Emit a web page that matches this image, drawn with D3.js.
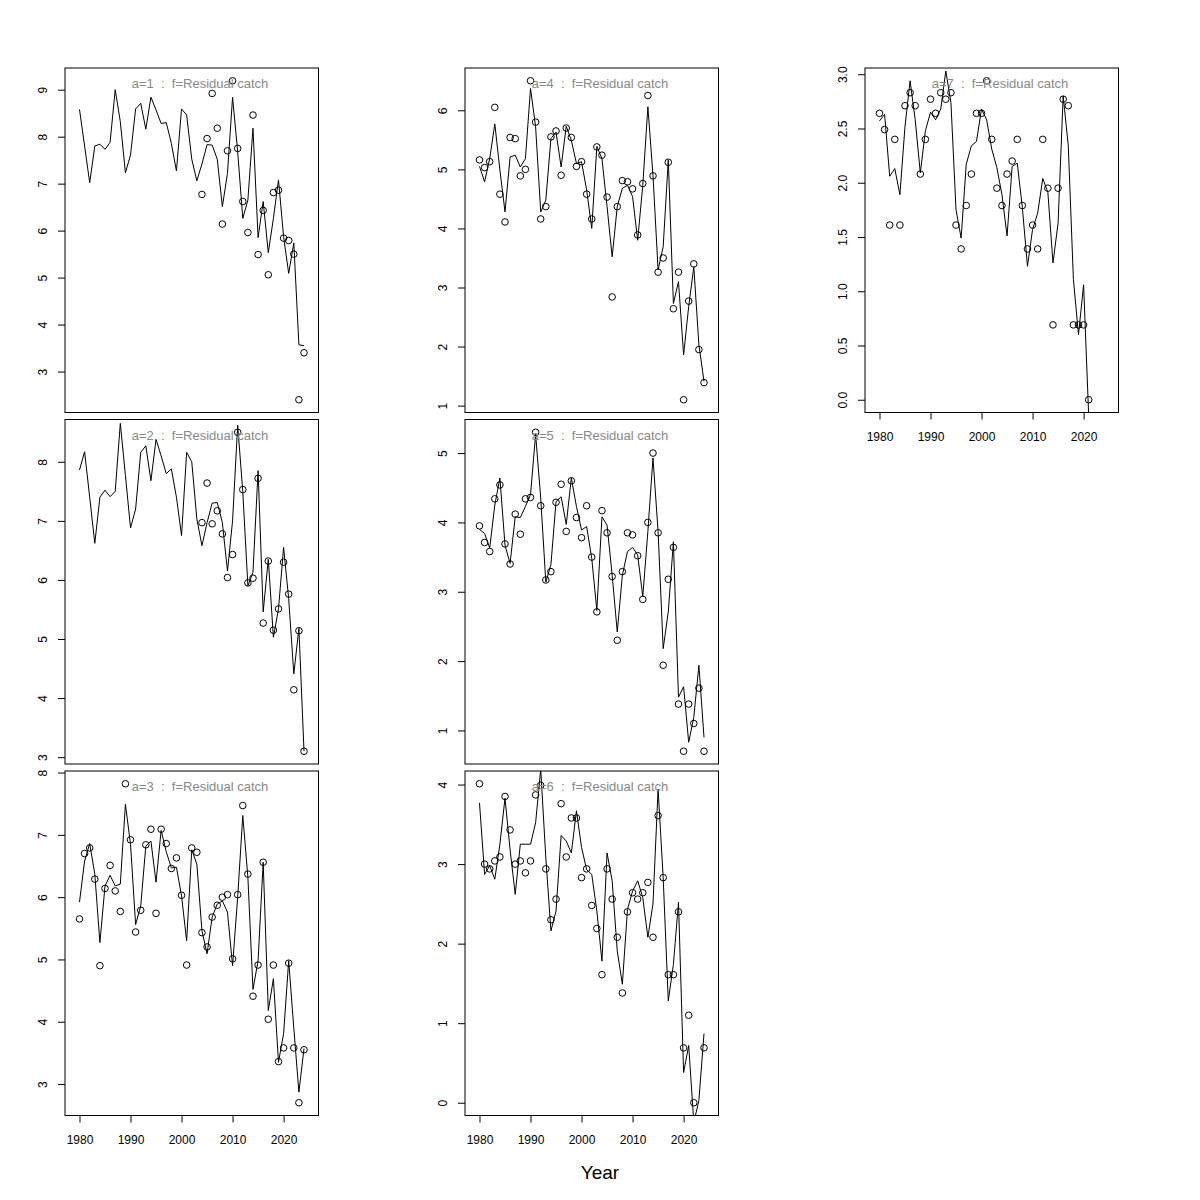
<!DOCTYPE html>
<html><head><meta charset="utf-8">
<script src="https://cdn.jsdelivr.net/npm/d3@7"></script>
<style>
body{margin:0;background:#fff}
svg text{font-family:"Liberation Sans",Arial,Helvetica,sans-serif}
</style>
</head><body>
<svg id="chart" width="1200" height="1200"></svg>
<script>
// ---------------- data ----------------
const years = [1980,1981,1982,1983,1984,1985,1986,1987,1988,1989,
  1990,1991,1992,1993,1994,1995,1996,1997,1998,1999,
  2000,2001,2002,2003,2004,2005,2006,2007,2008,2009,
  2010,2011,2012,2013,2014,2015,2016,2017,2018,2019,
  2020,2021,2022,2023,2024];
const xTickValues = [1980,1990,2000,2010,2020];
const ages = [1,2,3,4,5,6,7];
const fleetLabel = "f=Residual catch";
const xTitle = "Year";

const fit1 = [8.58,7.80,7.02,7.80,7.84,7.73,7.88,9.00,8.32,7.23,
  7.61,8.59,8.71,8.16,8.84,8.57,8.28,8.30,7.86,7.27,
  8.59,8.46,7.52,7.06,7.42,7.83,7.82,7.52,6.51,7.22,
  8.84,7.68,6.26,6.65,8.18,5.85,6.62,5.53,6.26,7.08,
  5.87,5.09,5.74,3.57,3.55];
const obs1 = [null,null,null,null,null,null,null,null,null,null,
  null,null,null,null,null,null,null,null,null,null,
  null,null,null,null,6.77,7.96,8.92,8.18,6.14,7.70,
  9.19,7.75,6.62,5.96,8.46,5.49,6.43,5.06,6.81,6.86,
  5.84,5.79,5.50,2.40,3.40];

const fit2 = [7.86,8.17,7.40,6.62,7.40,7.52,7.41,7.50,8.65,7.77,
  6.88,7.20,8.16,8.27,7.68,8.38,8.10,7.80,7.88,7.40,
  6.75,8.16,8.00,7.03,6.58,6.97,7.30,7.31,6.97,6.15,
  7.00,8.62,7.50,5.90,6.13,7.85,5.46,6.35,5.03,5.51,
  6.55,5.68,4.41,5.18,3.10];
const obs2 = [null,null,null,null,null,null,null,null,null,null,
  null,null,null,null,null,null,null,null,null,null,
  null,null,null,null,6.97,7.64,6.95,7.17,6.78,6.04,
  6.43,8.50,7.53,5.95,6.03,7.72,5.27,6.32,5.15,5.51,
  6.30,5.76,4.14,5.14,3.10];

const fit3 = [5.92,6.58,6.86,6.37,5.27,6.18,6.35,6.18,6.21,7.49,
  6.85,5.56,5.86,6.82,6.90,6.24,7.07,6.73,6.47,6.48,
  6.02,5.30,6.76,6.53,5.46,5.09,5.68,5.89,5.94,5.76,
  4.90,6.00,7.31,6.32,4.52,4.98,6.56,4.18,4.69,3.35,
  3.81,4.98,3.90,2.87,3.57];
const obs3 = [5.65,6.70,6.79,6.29,4.90,6.14,6.51,6.10,5.77,7.82,
  6.92,5.44,5.79,6.84,7.09,5.74,7.09,6.86,6.46,6.63,
  6.03,4.91,6.79,6.72,5.43,5.20,5.68,5.87,6.00,6.04,
  5.01,6.04,7.47,6.37,4.41,4.91,6.56,4.04,4.91,3.36,
  3.58,4.94,3.58,2.70,3.55];

const fit4 = [5.05,4.79,5.18,5.77,4.99,4.28,5.21,5.24,5.04,5.18,
  6.37,5.72,4.28,4.48,5.52,5.63,5.04,5.73,5.49,5.10,
  5.13,4.65,4.00,5.39,5.18,4.37,3.52,4.37,4.68,4.73,
  4.54,3.80,4.73,6.06,4.90,3.30,3.69,5.16,2.73,3.10,
  1.86,2.68,3.35,2.03,1.41];
const obs4 = [5.16,5.03,5.13,6.05,4.58,4.11,5.54,5.52,4.89,5.00,
  6.50,5.80,4.16,4.37,5.55,5.65,4.90,5.70,5.54,5.05,
  5.13,4.58,4.16,5.38,5.24,4.53,2.84,4.37,4.81,4.79,
  4.67,3.89,4.76,6.25,4.89,3.26,3.50,5.12,2.64,3.26,
  1.10,2.77,3.40,1.95,1.39];

const fit5 = [3.90,3.84,3.63,4.25,4.64,3.67,3.41,4.08,4.07,4.23,
  4.40,5.27,4.35,3.14,3.39,4.30,4.37,3.97,4.64,4.23,
  3.89,3.94,3.48,2.73,4.08,3.96,3.24,2.42,3.24,3.58,
  3.64,3.53,2.93,3.87,4.93,3.87,2.18,2.71,3.72,1.48,
  1.63,0.83,1.19,1.94,0.90];
const obs5 = [3.95,3.71,3.58,4.34,4.54,3.69,3.40,4.12,3.83,4.34,
  4.36,5.30,4.24,3.17,3.29,4.29,4.55,3.87,4.60,4.07,
  3.78,4.24,3.50,2.71,4.17,3.85,3.22,2.30,3.29,3.85,
  3.82,3.52,2.89,4.00,5.00,3.85,1.94,3.18,3.64,1.38,
  0.70,1.38,1.10,1.61,0.70];

const fit6 = [3.77,2.87,2.98,2.81,3.25,3.83,3.18,2.62,3.25,3.25,
  3.25,3.52,4.19,3.08,2.16,2.41,3.36,3.29,3.14,3.67,
  3.21,2.93,2.87,2.41,1.78,3.14,2.79,1.91,1.49,2.43,
  2.66,2.79,2.58,2.08,2.50,3.94,2.83,1.28,1.74,2.52,
  0.38,0.72,-0.25,0.03,0.87];
const obs6 = [4.01,3.00,2.94,3.04,3.09,3.85,3.43,3.00,3.04,2.89,
  3.04,3.87,3.99,2.94,2.30,2.56,3.76,3.09,3.58,3.58,
  2.83,2.94,2.48,2.19,1.61,2.94,2.56,2.08,1.38,2.40,
  2.64,2.56,2.64,2.77,2.08,3.61,2.83,1.61,1.61,2.40,
  0.69,1.10,0.00,null,0.69];

const fit7 = [2.57,2.63,2.06,2.13,1.89,2.52,2.94,2.58,2.09,2.48,
  2.65,2.58,2.68,3.03,2.74,1.75,1.49,2.17,2.34,2.38,
  2.68,2.58,2.31,2.14,1.89,1.51,2.15,2.18,1.77,1.23,
  1.57,1.72,2.04,1.91,1.26,1.63,2.80,2.34,1.11,0.60,
  1.06,-0.15,null,null,null];
const obs7 = [2.64,2.49,1.61,2.40,1.61,2.71,2.83,2.71,2.08,2.40,
  2.77,2.64,2.83,2.77,2.83,1.61,1.39,1.79,2.08,2.64,
  2.64,2.94,2.40,1.95,1.79,2.08,2.20,2.40,1.79,1.39,
  1.61,1.39,2.40,1.95,0.69,1.95,2.77,2.71,0.69,0.69,
  0.69,0.00,null,null,null];

const yTicks1 = [3,4,5,6,7,8,9];
const yTicks2 = [3,4,5,6,7,8];
const yTicks3 = [3,4,5,6,7,8];
const yTicks4 = [1,2,3,4,5,6];
const yTicks5 = [1,2,3,4,5];
const yTicks6 = [0,1,2,3,4];
const yTicks7 = [0,0.5,1,1.5,2,2.5,3];

const fits = [fit1,fit2,fit3,fit4,fit5,fit6,fit7];
const obss = [obs1,obs2,obs3,obs4,obs5,obs6,obs7];
const yTickSets = [yTicks1,yTicks2,yTicks3,yTicks4,yTicks5,yTicks6,yTicks7];
const yTickFmt = [null,null,null,null,null,null,".1f"];

// ---------------- layout ----------------
const colLeft = [65, 465, 865];
const rowTop = [68, 419.5, 771];
const pw = 253.5, ph = 344.5;
const xDomain = [1977.16, 2026.84];
const FONT = '"Liberation Sans",Arial,Helvetica,sans-serif';

const svg = d3.select("#chart");
svg.append("rect").attr("width",1200).attr("height",1200).attr("fill","#fff");

ages.forEach((a, i) => {
  const col = Math.floor(i / 3), row = i % 3;
  const L = colLeft[col], T = rowTop[row];
  const fit = fits[i], obs = obss[i];
  const x = d3.scaleLinear().domain(xDomain).range([0, pw]);
  const ext = d3.extent(obs.filter(v => v != null));
  const pad = (ext[1] - ext[0]) * 0.04;
  const y = d3.scaleLinear().domain([ext[0] - pad, ext[1] + pad]).range([ph, 0]);

  const g = svg.append("g").attr("transform", `translate(${L},${T})`);
  const clipId = "clip" + a;
  g.append("clipPath").attr("id", clipId).append("rect")
    .attr("x", 0).attr("y", 0).attr("width", pw).attr("height", ph);

  // y axis
  const fmt = yTickFmt[i] ? d3.format(yTickFmt[i]) : d3.format("d");
  const ya = g.append("g").call(d3.axisLeft(y).tickValues(yTickSets[i]).tickSize(7).tickFormat(fmt));
  ya.select(".domain").remove();
  ya.selectAll("line").attr("stroke", "#000");
  ya.selectAll("text")
    .attr("x", null).attr("dy", null)
    .attr("text-anchor", "middle")
    .attr("transform", "translate(-18,0) rotate(-90)")
    .attr("fill", "#000")
    .style("font-size", "12px")
    .style("font-family", FONT);

  // x axis on last panel of each column
  const lastInCol = (row === 2) || (col === 2);
  if (lastInCol) {
    const xa = g.append("g").attr("transform", `translate(0,${ph})`)
      .call(d3.axisBottom(x).tickValues(xTickValues).tickSize(7).tickFormat(d3.format("d")));
    xa.select(".domain").remove();
    xa.selectAll("line").attr("stroke", "#000");
    xa.selectAll("text")
      .attr("y", 28.5).attr("dy", null)
      .attr("fill", "#000")
      .style("font-size", "12px")
      .style("font-family", FONT);
  }

  // fitted line (clipped)
  const line = d3.line()
    .defined(d => d[1] != null)
    .x(d => x(d[0])).y(d => y(d[1]));
  g.append("path")
    .attr("clip-path", `url(#${clipId})`)
    .attr("d", line(years.map((yr, k) => [yr, fit[k]])))
    .attr("fill", "none").attr("stroke", "#000").attr("stroke-width", 1);

  // observations
  g.append("g").attr("clip-path", `url(#${clipId})`)
    .selectAll("circle")
    .data(years.map((yr, k) => [yr, obs[k]]).filter(d => d[1] != null))
    .join("circle")
    .attr("cx", d => x(d[0])).attr("cy", d => y(d[1]))
    .attr("r", 3.3)
    .attr("fill", "none").attr("stroke", "#000").attr("stroke-width", 1);

  // panel title
  g.append("text")
    .attr("x", 135).attr("y", 20)
    .attr("text-anchor", "middle")
    .attr("xml:space", "preserve")
    .attr("fill", "#888")
    .style("font-size", "13px")
    .style("white-space", "pre")
    .text(`a=${a}  :  ${fleetLabel}`);

  // box
  g.append("rect").attr("x", 0).attr("y", 0).attr("width", pw).attr("height", ph)
    .attr("fill", "none").attr("stroke", "#000").attr("stroke-width", 1);
});

svg.append("text")
  .attr("x", 600).attr("y", 1179)
  .attr("text-anchor", "middle")
  .attr("fill", "#000")
  .style("font-size", "19px")
  .text(xTitle);
</script>
</body></html>
